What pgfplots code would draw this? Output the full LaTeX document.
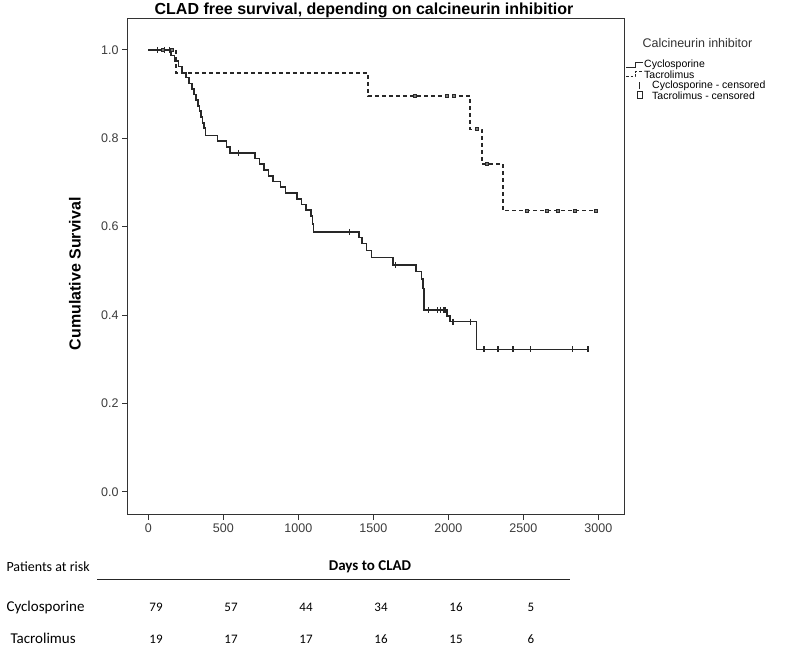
\documentclass[border=0pt]{standalone}
\usepackage{fontspec}
\setmainfont{Liberation Sans}
\newfontfamily\calfont{Carlito}
\usepackage{pgfplots}
\pgfplotsset{compat=1.18}
\definecolor{curve}{RGB}{40,40,40}
\definecolor{tickgray}{RGB}{60,60,60}

% Kaplan-Meier steps (days, cumulative survival)
\pgfplotstableread{
d s
0 1.000
150 0.987
175 0.975
200 0.962
225 0.949
250 0.937
270 0.924
290 0.911
305 0.899
318 0.886
330 0.873
340 0.861
350 0.848
360 0.835
370 0.823
380 0.806
460 0.793
520 0.780
545 0.767
710 0.754
740 0.741
770 0.728
800 0.715
830 0.702
880 0.689
915 0.676
990 0.663
1020 0.650
1050 0.637
1085 0.624
1095 0.606
1100 0.588
1405 0.575
1425 0.562
1455 0.546
1489 0.530
1630 0.513
1785 0.498
1820 0.482
1830 0.460
1838 0.411
1991 0.398
2011 0.385
2189 0.322
2931 0.322
}\cyclo

\pgfplotstableread{
d s
0 1.000
185 0.947
1465 0.895
2145 0.820
2225 0.742
2363 0.636
2990 0.636
}\tacro

\pgfplotstableread{
d s
60 1.000
110 1.000
140 1.000
600 0.767
1340 0.588
1645 0.513
1865 0.411
1925 0.411
1945 0.411
1965 0.411
1978 0.411
2031 0.385
2145 0.385
2238 0.322
2331 0.322
2431 0.322
2545 0.322
2825 0.322
2931 0.322
}\cyclocens

\pgfplotstableread{
d s
100 1.000
160 1.000
1780 0.895
1990 0.895
2040 0.895
2190 0.820
2260 0.742
2527 0.636
2656 0.636
2733 0.636
2845 0.636
2985 0.636
}\tacrocens

\begin{document}
\begin{tikzpicture}
\begin{scope}[x=1pt,y=1pt]
\useasboundingbox (0,0) rectangle (800,650);
\end{scope}
\begin{axis}[
  at={(127pt,137pt)}, anchor=south west,
  width=497pt, height=496pt, scale only axis,
  xmin=-142, xmax=3171, ymin=-0.052, ymax=1.07,
  xtick={0,500,1000,1500,2000,2500,3000},
  ytick={0,0.2,0.4,0.6,0.8,1.0},
  xtick pos=left, ytick pos=left,
  tick align=outside, major tick length=5pt,
  tick style={black!80, line width=1pt},
  axis line style={black!80, line width=1pt},
  /pgf/number format/assume math mode=true,
  ticklabel style={font=\fontsize{12.5}{14}\selectfont, text=tickgray},
  yticklabel style={/pgf/number format/fixed, /pgf/number format/fixed zerofill,
    /pgf/number format/precision=1},
  xticklabel style={/pgf/number format/set thousands separator={}},
  clip=false,
]
\addplot[const plot, curve, line width=1.6pt] table[x=d,y=s] {\cyclo};
\addplot[const plot, curve, line width=1.6pt, dash pattern=on 4pt off 3pt] table[x=d,y=s] {\tacro};
\addplot[only marks, mark=|, mark size=3pt, curve, line width=1.1pt] table[x=d,y=s] {\cyclocens};
\addplot[only marks, mark=square*, mark size=1.6pt, curve, fill=curve!60, line width=1pt] table[x=d,y=s] {\tacrocens};
\end{axis}

\begin{scope}[x=1pt,y=1pt]
% title and axis labels
\node[font=\fontsize{16}{18}\selectfont\bfseries] at (364,641) {CLAD free survival, depending on calcineurin inhibitior};
\node[font=\fontsize{16}{18}\selectfont\bfseries, rotate=90] at (75,378) {Cumulative Survival};

% legend
\node[anchor=west, font=\fontsize{12.5}{14}\selectfont, text=black!80] at (639,609) {Calcineurin inhibitor};
\draw[curve, line width=1pt] (626,584) -- (635,584) -- (635,589) -- (643,589);
\node[anchor=west, font=\fontsize{10.5}{12}\selectfont, inner sep=1pt] at (643,587) {Cyclosporine};
\draw[curve, line width=1pt, dash pattern=on 2.5pt off 2pt] (626,575) -- (635,575) -- (635,580) -- (643,580);
\node[anchor=west, font=\fontsize{10.5}{12}\selectfont, inner sep=1pt] at (643,577) {Tacrolimus};
\draw[curve, line width=0.8pt] (639,563) -- (639,570);
\node[anchor=west, font=\fontsize{10.5}{12}\selectfont, inner sep=1pt] at (651,566) {Cyclosporine - censored};
\draw[curve, line width=0.8pt] (637,553) rectangle (642,560);
\node[anchor=west, font=\fontsize{10.5}{12}\selectfont, inner sep=1pt] at (651,556) {Tacrolimus - censored};

% patients at risk
\node[anchor=base west, font=\calfont\fontsize{14}{16}\selectfont] at (3,80) {Patients at risk};
\node[anchor=base, font=\calfont\fontsize{15}{17}\selectfont\bfseries] at (370,81) {Days to CLAD};
\draw[black!85, line width=1.2pt] (97,72) -- (570,72);
\node[anchor=base west, font=\calfont\fontsize{15}{17}\selectfont] at (3,40) {Cyclosporine};
\node[anchor=base west, font=\calfont\fontsize{15}{17}\selectfont] at (7,8) {Tacrolimus};
\foreach \xx/\n in {156/79, 231/57, 306/44, 381/34, 456/16, 531/5}
  \node[anchor=base, font=\calfont\fontsize{13}{15}\selectfont] at (\xx,40) {\n};
\foreach \xx/\n in {156/19, 231/17, 306/17, 381/16, 456/15, 531/6}
  \node[anchor=base, font=\calfont\fontsize{13}{15}\selectfont] at (\xx,8) {\n};
\end{scope}
\end{tikzpicture}
\end{document}
